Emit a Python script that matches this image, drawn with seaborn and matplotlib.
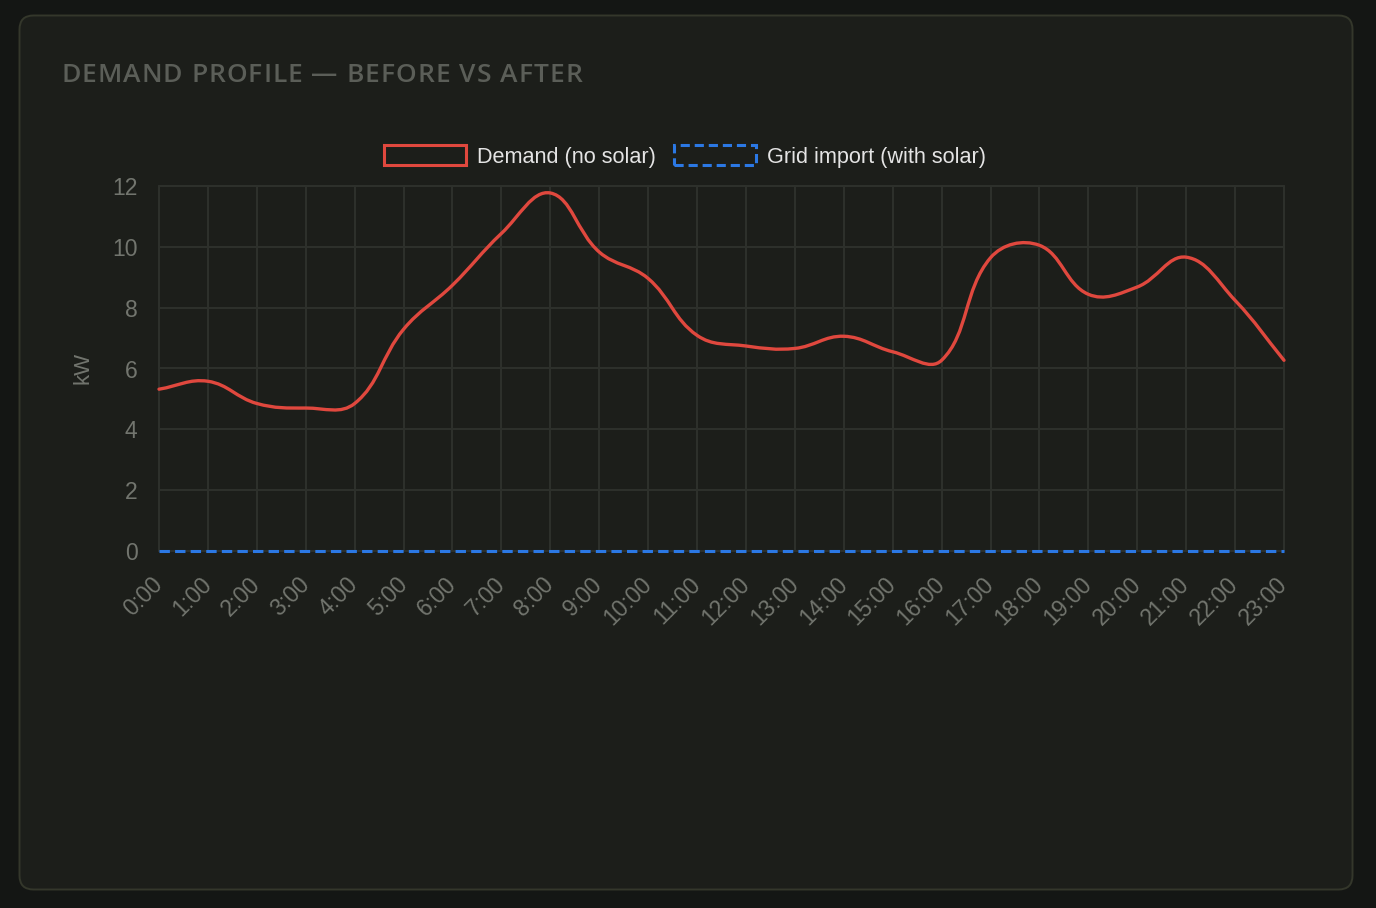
import numpy as np
import pandas as pd
import matplotlib
matplotlib.use("Agg")
import matplotlib.pyplot as plt
import seaborn as sns
from matplotlib.path import Path
from matplotlib.patches import PathPatch, FancyBboxPatch, Rectangle

# ---------------- data ----------------
hours = ["0:00", "1:00", "2:00", "3:00", "4:00", "5:00", "6:00", "7:00", "8:00", "9:00",
         "10:00", "11:00", "12:00", "13:00", "14:00", "15:00", "16:00", "17:00", "18:00",
         "19:00", "20:00", "21:00", "22:00", "23:00"]
demand_kw = [5.32, 5.58, 4.85, 4.70, 4.85, 7.29, 8.74, 10.44, 11.77, 9.83, 8.96, 7.09,
             6.74, 6.66, 7.06, 6.55, 6.27, 9.64, 10.05, 8.44, 8.68, 9.66, 8.24, 6.27]
grid_import_kw = [0, 0, 0, 0, 0, 0, 0, 0, 0, 0, 0, 0,
                  0, 0, 0, 0, 0, 0, 0, 0, 0, 0, 0, 0]
y_ticks = [0, 2, 4, 6, 8, 10, 12]
series_labels = ["Demand (no solar)", "Grid import (with solar)"]
title_text = "DEMAND PROFILE \u2014 BEFORE VS AFTER"
y_label = "kW"

# ---------------- style ----------------
OUTER = "#141614"
CARD = "#1c1e1a"
BORDER = "#34372b"
GRIDC = "#2e312c"
TICKC = "#72756e"
TITLEC = "#5b5e58"
LEGC = "#e4e4e4"
RED = "#e0483e"
BLUE = "#2b78e4"

sns.set_theme(style="dark")
plt.rcParams["font.family"] = ["Liberation Sans", "DejaVu Sans"]

W, H = 1376, 908
fig = plt.figure(figsize=(W / 100, H / 100), dpi=100, facecolor=OUTER)

# background card in pixel coordinates
bg = fig.add_axes([0, 0, 1, 1])
bg.set_xlim(0, W)
bg.set_ylim(H, 0)
bg.axis("off")
card = FancyBboxPatch((19.5, 15.5), 1333, 874, boxstyle="round,pad=0,rounding_size=14",
                      facecolor=CARD, edgecolor=BORDER, linewidth=1.4)
bg.add_patch(card)

# letter-spaced title (target span 61 -> 582 px)
renderer = fig.canvas.get_renderer()
TFONT = dict(fontfamily=["Open Sans", "DejaVu Sans"], fontweight="semibold", fontsize=19)


def char_width(ch):
    if ch == " ":
        a = bg.text(0, 0, "n n", **TFONT)
        b = bg.text(0, 0, "nn", **TFONT)
        w = a.get_window_extent(renderer).width - b.get_window_extent(renderer).width
        a.remove()
        b.remove()
        return w
    a = bg.text(0, 0, ch, **TFONT)
    w = a.get_window_extent(renderer).width
    a.remove()
    return w


widths = [char_width(c) for c in title_text]
spacing = (582 - 61 - sum(widths)) / (len(title_text) - 1)
x_cursor = 61.0
for ch, w in zip(title_text, widths):
    bg.text(x_cursor, 75, ch, color=TITLEC, va="center", ha="left", **TFONT)
    x_cursor += w + spacing

bg.text(83, 368, y_label, rotation=90, fontsize=16, color=TICKC, ha="center", va="center")

# main axes
L, R, T, B = 159, 1284, 186, 551
ax = fig.add_axes([L / W, 1 - B / H, (R - L) / W, (B - T) / H])
ax.set_facecolor("none")
x_idx = np.arange(len(hours))

df = pd.DataFrame({"x": x_idx, "demand": demand_kw, "grid": grid_import_kw})
sns.lineplot(data=df, x="x", y="grid", ax=ax, color=BLUE, linewidth=2.2,
             linestyle=(0, (3.4, 1.7)), clip_on=False, zorder=3)

ax.set_xlim(0, len(hours) - 1)
ax.set_ylim(0, 12)

# Chart.js-style spline (tension 0.4) computed in pixel space
xs = np.array(x_idx, dtype=float)
ys = np.array(demand_kw, dtype=float)
sx = (R - L) / (len(hours) - 1)
sy = (B - T) / 12.0
px, py = xs * sx, ys * sy
tension = 0.4
n = len(xs)
verts = [(xs[0], ys[0])]
codes = [Path.MOVETO]
cps = []
for i in range(n):
    p0 = (px[max(i - 1, 0)], py[max(i - 1, 0)])
    p1 = (px[i], py[i])
    p2 = (px[min(i + 1, n - 1)], py[min(i + 1, n - 1)])
    d01 = np.hypot(p1[0] - p0[0], p1[1] - p0[1])
    d12 = np.hypot(p2[0] - p1[0], p2[1] - p1[1])
    tot = d01 + d12
    s01 = d01 / tot if tot else 0
    s12 = d12 / tot if tot else 0
    fa, fb = tension * s01, tension * s12
    prev_cp = (p1[0] - fa * (p2[0] - p0[0]), p1[1] - fa * (p2[1] - p0[1]))
    next_cp = (p1[0] + fb * (p2[0] - p0[0]), p1[1] + fb * (p2[1] - p0[1]))
    cps.append((prev_cp, next_cp))


def to_data(p):
    return (p[0] / sx, min(max(p[1] / sy, 0), 12))


for i in range(1, n):
    verts += [to_data(cps[i - 1][1]), to_data(cps[i][0]), (xs[i], ys[i])]
    codes += [Path.CURVE4] * 3
patch = PathPatch(Path(verts, codes), facecolor="none", edgecolor=RED, linewidth=2.4,
                  capstyle="round", joinstyle="round", zorder=4, clip_on=False)
ax.add_patch(patch)

ax.set_xticks(x_idx)
ax.set_xticklabels(hours, rotation=45, ha="right", va="center", rotation_mode="anchor")
ax.set_yticks(y_ticks)
ax.set_yticklabels([str(v) for v in y_ticks])
ax.tick_params(axis="both", length=11.5, width=1.4, color=GRIDC, labelcolor=TICKC,
               labelsize=16.5)
ax.tick_params(axis="y", pad=4)
ax.tick_params(axis="x", pad=10)
ax.grid(True, color=GRIDC, linewidth=1.4)
for ln in ax.get_xgridlines() + ax.get_ygridlines():
    ln.set_clip_on(False)
for s in ax.spines.values():
    s.set_visible(False)
ax.set_xlabel("")
ax.set_ylabel("")
ax.set_axisbelow(True)

# legend
h1 = Rectangle((0, 0), 1, 1, facecolor="none", edgecolor=RED, linewidth=2.2)
h2 = Rectangle((0, 0), 1, 1, facecolor="none", edgecolor=BLUE, linewidth=2.2,
               linestyle=(0, (3.0, 1.6)))
fig.legend([h1, h2], series_labels, loc="center", ncol=2,
           bbox_to_anchor=(685 / W, 1 - 156.5 / H), bbox_transform=fig.transFigure,
           frameon=False, fontsize=15.6, labelcolor=LEGC, handlelength=3.8,
           handleheight=1.05, handletextpad=0.5, columnspacing=0.85, borderpad=0)

fig.savefig("out.png", dpi=100, facecolor=OUTER)
